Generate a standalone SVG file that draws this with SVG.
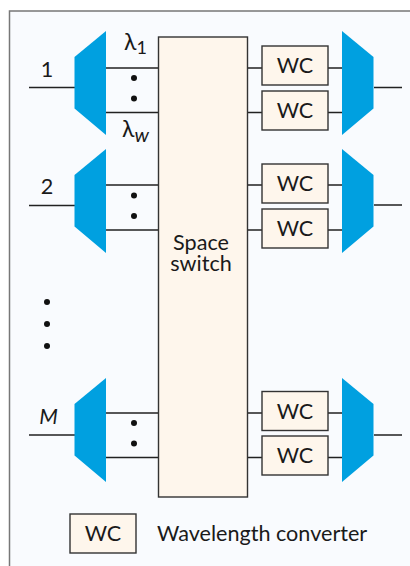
<svg xmlns="http://www.w3.org/2000/svg" xmlns:xlink="http://www.w3.org/1999/xlink" width="410" height="566" viewBox="0 0 410 566">
<style>
.t{font-family:Lato,"Open Sans",sans-serif;font-size:21.6px;fill:#1a1a1a}
.c{text-anchor:middle}
.box{fill:#fef6ec;stroke:#333;stroke-width:1.4}
.mux{fill:#00a0e0}
.ln{stroke:#222;stroke-width:1.3;fill:none}
</style>
<defs>
<g id="wc"><rect class="box" x="0" y="0" width="66" height="39"/><text class="t c" x="33" y="27">WC</text></g>
<polygon id="dm" class="mux" points="74.5,57 106,31 106,135 74.5,108.5"/>
<polygon id="mx" class="mux" points="342,31 373.5,57 373.5,108.5 342,135"/>
</defs>
<rect x="0" y="0" width="410" height="566" fill="#fff"/>
<path d="M9.5 566V11H410V566Z" fill="#f9fbfe"/>
<path d="M9.5 566V11H410" fill="none" stroke="#777" stroke-width="1.5"/>
<g id="connectors" class="ln">
<path d="M29 87.500H75M106 68H158M106 112.500H158M247 68H262M247 112.500H262M328 68H342M328 112.500H342M374 87.500H402"/>
<path d="M29 205.500H75M106 185H158M106 230H158M247 185H262M247 230H262M328 185H342M328 230H342M374 205H402"/>
<path d="M29 435H75M106 413H158M106 457.500H158M247 413H262M247 457.500H262M328 413H342M328 457.500H342M374 435H402"/>
</g>
<g id="switch"><rect class="box" x="158.500" y="37" width="89" height="460"/><text class="t c" x="201" y="250">Space</text><text class="t c" x="201" y="271">switch</text></g>
<g id="demux1"><use xlink:href="#dm"/></g>
<g id="demux2"><use xlink:href="#dm" y="118"/></g>
<g id="demuxM"><use xlink:href="#dm" y="347"/></g>
<g id="mux1"><use xlink:href="#mx"/></g>
<g id="mux2"><use xlink:href="#mx" y="118"/></g>
<g id="muxM"><use xlink:href="#mx" y="347"/></g>
<g id="wc1a"><use xlink:href="#wc" x="262" y="46"/></g>
<g id="wc1b"><use xlink:href="#wc" x="262" y="91"/></g>
<g id="wc2a"><use xlink:href="#wc" x="262" y="164"/></g>
<g id="wc2b"><use xlink:href="#wc" x="262" y="209"/></g>
<g id="wcMa"><use xlink:href="#wc" x="262" y="391.500"/></g>
<g id="wcMb"><use xlink:href="#wc" x="262" y="436"/></g>
<g id="legend"><use xlink:href="#wc" x="70" y="514"/><text class="t" x="157" y="541">Wavelength converter</text></g>
<g id="dots" fill="#111">
<circle cx="134" cy="78" r="3"/><circle cx="134" cy="98.500" r="3"/>
<circle cx="134" cy="195.500" r="3"/><circle cx="134" cy="216" r="3"/>
<circle cx="134" cy="423" r="3"/><circle cx="134" cy="443.500" r="3"/>
<circle cx="47" cy="302" r="3"/><circle cx="47" cy="324" r="3"/><circle cx="47" cy="346" r="3"/>
</g>
<g id="labels">
<text class="t c" x="47" y="77">1</text>
<text class="t c" x="47" y="194">2</text>
<text class="t c" x="48.500" y="424" font-style="italic">M</text>
<text class="t" x="124" y="50" style="font-size:23px">λ<tspan style="font-size:18px" dy="4">1</tspan></text>
<text class="t" x="122" y="137" style="font-size:23px">λ<tspan style="font-size:20px;font-style:italic" dy="5">w</tspan></text>
</g>
</svg>
